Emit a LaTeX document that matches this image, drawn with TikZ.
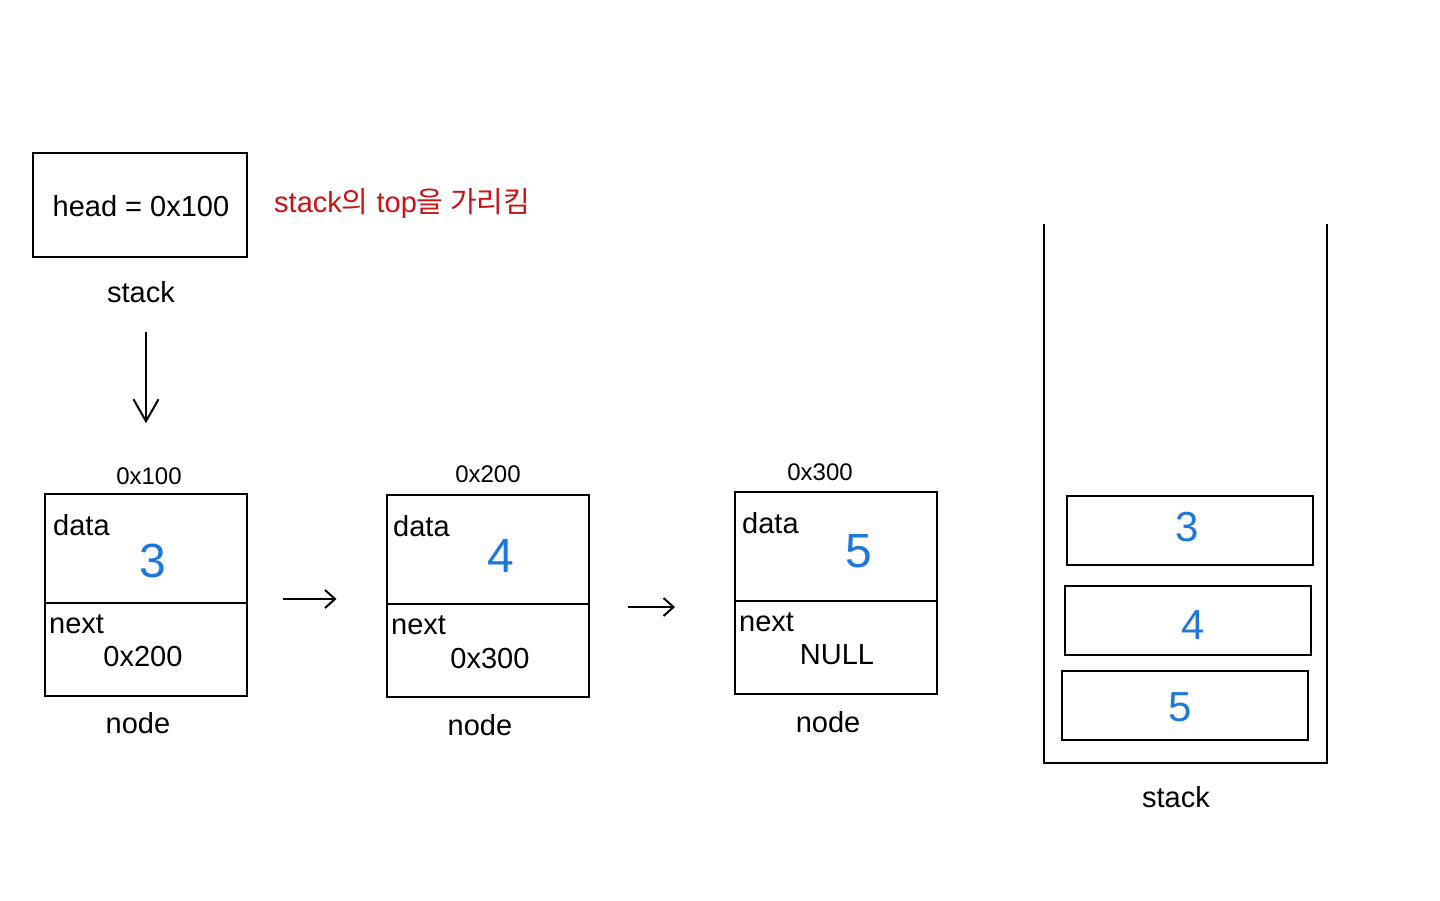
\documentclass[tikz,border=0pt]{standalone}
\usepackage{fontspec}
\setmainfont{Liberation Sans}
\newfontfamily\cjk{Noto Sans CJK KR}
\usetikzlibrary{arrows.meta}
\definecolor{hwblue}{RGB}{30,120,220}
\definecolor{notered}{RGB}{200,20,20}
\tikzset{
  box/.style={draw, line width=2pt, inner sep=0pt, minimum width=202pt, minimum height=202pt},
  cell/.style={draw, line width=2pt, inner sep=0pt, minimum width=246pt, minimum height=69pt},
  lbl/.style={inner sep=0pt, font=\fontsize{29}{34}\selectfont},
  small/.style={inner sep=0pt, font=\fontsize{24}{28}\selectfont},
  field/.style={inner sep=0pt, anchor=west, font=\fontsize{29}{34}\selectfont},
  digit/.style={inner sep=0pt, text=hwblue, font=\fontsize{48}{56}\selectfont},
  sdigit/.style={inner sep=0pt, text=hwblue, font=\fontsize{42}{50}\selectfont},
  conn/.style={line width=2pt, -{Straight Barb[length=10pt,width=18pt,line width=2pt]}},
  vconn/.style={line width=2pt, -{Straight Barb[length=22pt,width=25pt,line width=2pt]}}
}
\begin{document}
\begin{tikzpicture}[x=1pt,y=-1pt]
\useasboundingbox (0,0) rectangle (1440,900);
% head box
\node[draw, line width=2pt, inner sep=0pt, minimum width=214pt, minimum height=104pt] (head) at (140,205) {};
\node[lbl] (headtxt) at (141,206) {head = 0x100};
\node[lbl] (stacklbl) at (141,292) {stack};
\node[inner sep=0pt, anchor=west, text=notered, font=\fontsize{29}{34}\selectfont] (note) at (274,204) {stack{\cjk 의} top{\cjk 을 가리킴}};

% nodes
\node[box] (n1) at (146,595) {};
\node[box] (n2) at (487.5,596) {};
\node[box] (n3) at (836,593) {};
\draw[line width=2pt] (45,603) -- (247,603);
\draw[line width=2pt] (387,604) -- (588,604);
\draw[line width=2pt] (735,601) -- (937,601);

\node[small] (a1) at (149,476) {0x100};
\node[small] (a2) at (488,474) {0x200};
\node[small] (a3) at (820,472) {0x300};

\node[field] (d1) at (53,525) {data};
\node[field] (d2) at (393,526) {data};
\node[field] (d3) at (742,523) {data};
\node[digit] (v1) at (153,561) {3};
\node[digit] (v2) at (501,556) {4};
\node[digit] (v3) at (859,551) {5};
\node[field] (x1) at (49,624) {next};
\node[field] (x2) at (391,625) {next};
\node[field] (x3) at (739,622) {next};
\node[lbl] (p1) at (143,657) {0x200};
\node[lbl] (p2) at (490,659) {0x300};
\node[lbl] (p3) at (837,655) {NULL};

\node[lbl] (t1) at (138,723) {node};
\node[lbl] (t2) at (480,725) {node};
\node[lbl] (t3) at (828,722) {node};

% connectors
\draw[vconn, shorten <=29pt, shorten >=44pt] (stacklbl.south -| 146,0) -- (a1.north -| 146,0);
\draw[conn, shorten <=35pt, shorten >=49pt] (n1.east |- 0,599) -- (n2.west |- 0,599);
\draw[conn, shorten <=38pt, shorten >=59pt] (n2.east |- 0,607) -- (n3.west |- 0,607);

% stack container
\draw[line width=2pt, line join=miter] (1044,224) -- (1044,763) -- (1327,763) -- (1327,224);
\node[cell] (s1) at (1190,530.5) {};
\node[cell] (s2) at (1188,620.5) {};
\node[cell] (s3) at (1185,705.5) {};
\node[sdigit] (sv1) at (1187,527) {3};
\node[sdigit] (sv2) at (1193,625) {4};
\node[sdigit] (sv3) at (1180,707) {5};
\node[lbl] (stack2) at (1176,797) {stack};
\end{tikzpicture}
\end{document}
